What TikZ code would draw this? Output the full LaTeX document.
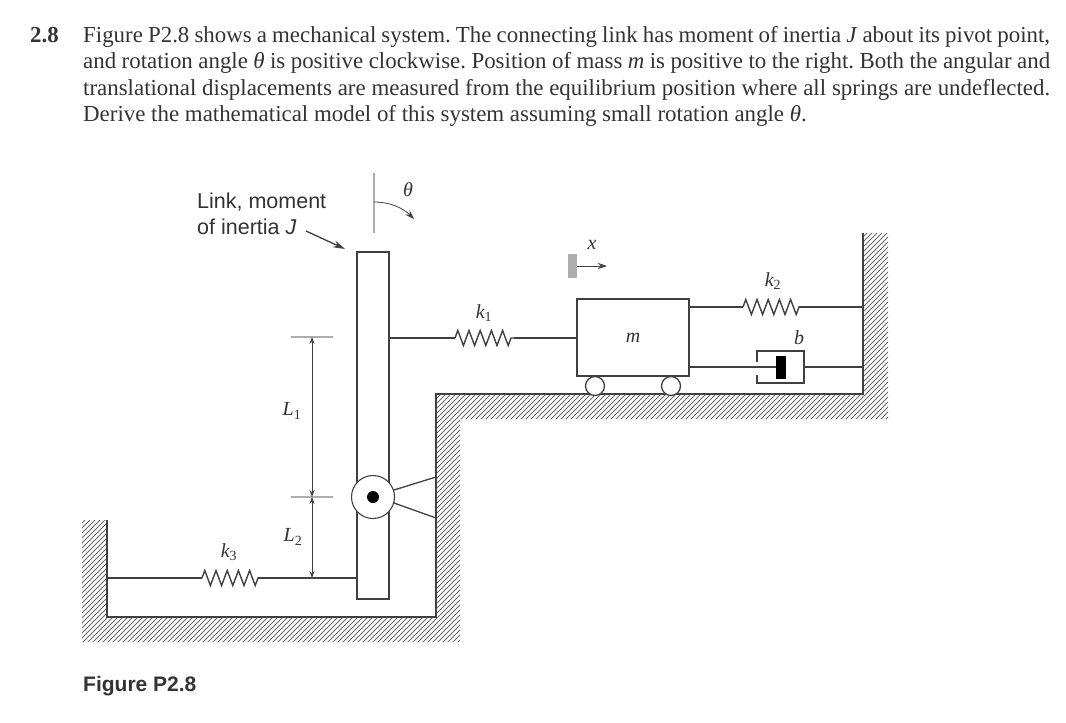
\documentclass[tikz,border=0pt]{standalone}
\usepackage{fontspec}
\setmainfont{Liberation Serif}
\newfontfamily\labelsans{Liberation Sans}
\usetikzlibrary{arrows.meta,decorations.pathmorphing,calc}

\definecolor{inkline}{gray}{0.25}
\definecolor{inktext}{gray}{0.2}
\definecolor{tickgray}{gray}{0.68}
\definecolor{hatchgray}{gray}{0.42}

\newcommand{\fullline}[1]{\makebox[967pt][s]{#1}}

\tikzset{
	wire/.style={draw=inkline,line width=1.3pt},
	thinwire/.style={draw=inkline,line width=0.8pt},
	hatchwire/.style={draw=hatchgray,line width=0.85pt},
	springwire/.style={draw=inkline,line width=1.4pt,decorate,decoration={zigzag,segment length=11.2pt,amplitude=7.5pt}},
	tip/.style={-{Stealth[length=9pt,width=6pt]}},
	bothtip/.style={{Stealth[length=7pt,width=5pt]}-{Stealth[length=7pt,width=5pt]}},
	bodybox/.style={draw=inkline,line width=1.4pt,fill=white,inner sep=0pt,outer sep=0pt},
	roller/.style={circle,draw=inkline,line width=1.3pt,fill=white,minimum size=19pt,inner sep=0pt},
	para/.style={anchor=base west,inner sep=0pt,text=inktext,font=\fontsize{22.9}{27}\selectfont},
	sym/.style={inner sep=0pt,text=inktext,font=\fontsize{20}{24}\selectfont\itshape},
	tag/.style={anchor=base west,inner sep=0pt,text=inktext,font=\labelsans\fontsize{21.5}{26}\selectfont},
}

\begin{document}
\frenchspacing
\begin{tikzpicture}[x=1pt,y=-1pt]
	\useasboundingbox (0,0) rectangle (1066,723);

	\node[para,font=\fontsize{22.9}{27}\selectfont\bfseries] (num) at (30,42) {2.8};
	\node[para] (lineone) at (83,42) {\fullline{Figure P2.8 shows a mechanical system. The connecting link has moment of inertia \textit{J} about its pivot point,}};
	\node[para] (linetwo) at (83,68) {\fullline{and rotation angle \textit{θ} is positive clockwise. Position of mass \textit{m} is positive to the right. Both the angular and}};
	\node[para] (linethree) at (83,95) {\fullline{translational displacements are measured from the equilibrium position where all springs are undeflected.}};
	\node[para] (linefour) at (83,121) {Derive the mathematical model of this system assuming small rotation angle \textit{θ}.};

	% ground
	\begin{scope}
		\clip (82,520) -- (107,520) -- (107,617) -- (436,617) -- (436,394) -- (863,394) -- (863,233) -- (888,233) -- (888,419) -- (460,419) -- (460,642) -- (82,642) -- cycle;
		\foreach \i in {-150,-145,...,650}
			\draw[hatchwire] (\i+60,660) -- (\i+500,220);
	\end{scope}
	\draw[wire,line width=1.5pt] (107,520) -- (107,617) -- (436,617) -- (436,394) -- (863,394) -- (863,233);

	% link and pivot
	\node[bodybox,minimum width=32pt,minimum height=347pt] (link) at (373,425.5) {};
	\coordinate (linktop) at (374,173);
	\coordinate (linkmark) at (374,233);
	\draw[draw=tickgray,line width=1.1pt] (linktop) -- (linkmark);
	\coordinate (arcstart) at (374,202);
	\coordinate (arcend) at (414,219);
	\draw[thinwire,tip] (arcstart) .. controls (390,202) and (403,208) .. (arcend);
	\node[sym] (theta) at (408,190) {θ};

	\coordinate (pivotpt) at (373,497);
	\coordinate (bracka) at (394,490);
	\coordinate (brackb) at (436,477);
	\coordinate (brackc) at (394,503);
	\coordinate (brackd) at (436,518);
	\draw[wire] (bracka) -- (brackb);
	\draw[wire] (brackc) -- (brackd);
	\node[circle,draw=inkline,line width=1.1pt,fill=white,minimum size=43pt,inner sep=0pt] (pivot) at (pivotpt) {};
	\node[circle,fill=black,minimum size=12pt,inner sep=0pt] (pin) at (pivotpt) {};

	\node[tag] (linka) at (197,208) {Link, moment};
	\node[tag] (linkb) at (197,234) {of inertia \textit{J}};
	\coordinate (linktail) at (306,231);
	\coordinate (linkhead) at (345,249);
	\draw[wire,-{Stealth[length=12pt,width=7pt]}] (linktail) -- (linkhead);

	% mass
	\node[bodybox,minimum width=112pt,minimum height=77pt] (mass) at (633,337.5) {};
	\node[sym] (mlabel) at (mass.center) {m};
	\node[roller] (wheela) at (595,386) {};
	\node[roller] (wheelb) at (671,386) {};
	\draw[draw=inkline,line width=1.4pt] (mass.south west) -- (mass.south east);

	% x marker
	\node[fill=tickgray,minimum width=9pt,minimum height=24pt,inner sep=0pt] (xmark) at (572.5,266) {};
	\coordinate (xhead) at (607,266);
	\draw[thinwire,tip] (xmark.east) -- (xhead);
	\node[sym] (xlabel) at (592,245) {x};

	% springs
	\coordinate (oneleft) at (389,338);
	\coordinate (onea) at (455,338);
	\coordinate (oneb) at (514,338);
	\draw[wire] (oneleft) -- (onea);
	\draw[springwire] (onea) -- (oneb);
	\draw[wire] (oneb) -- (mass.west |- oneb);
	\node[sym] (kone) at (484,313) {k\textsubscript{\upshape 1}};

	\coordinate (twoa) at (743,307);
	\coordinate (twob) at (799,307);
	\draw[wire] (mass.east |- twoa) -- (twoa);
	\draw[springwire] (twoa) -- (twob);
	\draw[wire] (twob) -- (863,307);
	\node[sym] (ktwo) at (773,281) {k\textsubscript{\upshape 2}};

	\coordinate (threel) at (107,578);
	\coordinate (threea) at (202,578);
	\coordinate (threeb) at (258,578);
	\draw[wire] (threel) -- (threea);
	\draw[springwire] (threea) -- (threeb);
	\draw[wire] (threeb) -- (link.west |- threeb);
	\node[sym] (kthree) at (229,552) {k\textsubscript{\upshape 3}};

	% damper
	\coordinate (cyla) at (757,362);
	\coordinate (cylb) at (757,351);
	\coordinate (cylc) at (804,351);
	\coordinate (cyld) at (804,383);
	\coordinate (cyle) at (757,383);
	\coordinate (cylf) at (757,375);
	\draw[wire,line width=1.4pt] (cyla) -- (cylb) -- (cylc) -- (cyld) -- (cyle) -- (cylf);
	\node[fill=black,minimum width=10pt,minimum height=23pt,inner sep=0pt] (piston) at (781,367) {};
	\draw[wire] (mass.east |- piston) -- (piston.west);
	\draw[wire] (cylc |- piston) -- (863,367);
	\node[sym] (blabel) at (799,338) {b};

	% dimensions
	\coordinate (topa) at (291,337);
	\coordinate (topb) at (333,337);
	\coordinate (mida) at (291,497);
	\coordinate (midb) at (333,497);
	\coordinate (dimtop) at (312,337);
	\coordinate (dimmid) at (312,497);
	\coordinate (dimlow) at (312,578);
	\draw[draw=tickgray,line width=1.1pt] (topa) -- (topb);
	\draw[draw=tickgray,line width=1.1pt] (mida) -- (midb);
	\draw[thinwire,bothtip] (dimtop) -- (dimmid);
	\draw[thinwire,bothtip] (dimmid) -- (dimlow);
	\node[sym] (lone) at (292,411) {L\textsubscript{\upshape 1}};
	\node[sym] (ltwo) at (293,537) {L\textsubscript{\upshape 2}};

	\node[tag,font=\labelsans\bfseries\fontsize{21}{26}\selectfont] (figname) at (83,691) {Figure P2.8};
\end{tikzpicture}
\end{document}
